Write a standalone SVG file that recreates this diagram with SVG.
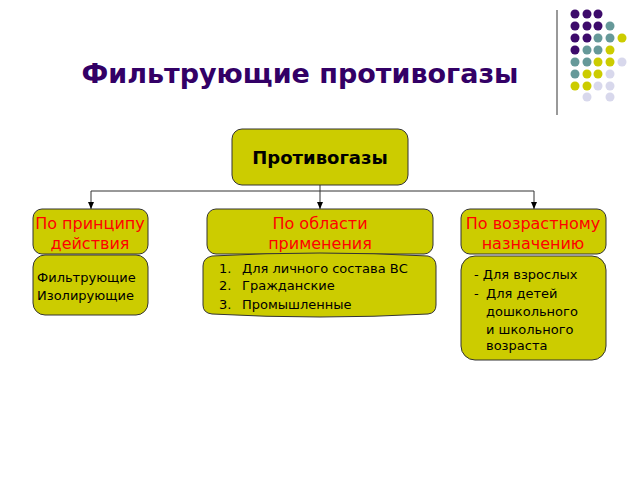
<svg xmlns="http://www.w3.org/2000/svg" width="640" height="480" viewBox="0 0 640 480">
<style>
.b{fill:#cccc00;stroke:#333;stroke-width:1}
.h{font-family:"DejaVu Sans",sans-serif;font-size:16px;fill:#ff0000;text-anchor:middle}
.t{font-family:"DejaVu Sans",sans-serif;font-size:13px;fill:#000}
.c{stroke:#333;stroke-width:1;fill:none;marker-end:url(#a)}
.P{fill:#3d0b6b}.T{fill:#669999}.Y{fill:#cccc00}.L{fill:#d8d8ec}
</style>
<defs><marker id="a" markerWidth="8" markerHeight="8" refX="7" refY="4" orient="auto" markerUnits="userSpaceOnUse"><path d="M0,1 L7,4 L0,7z" fill="#000"/></marker></defs>
<rect width="640" height="480" fill="#fff"/>
<line x1="557" y1="10" x2="557" y2="115" stroke="#999" stroke-width="2"/>
<g>
<circle class="P" cx="575" cy="14" r="4.5"/><circle class="P" cx="587" cy="14" r="4.5"/><circle class="P" cx="598" cy="14" r="4.5"/>
<circle class="P" cx="575" cy="26" r="4.5"/><circle class="P" cx="587" cy="26" r="4.5"/><circle class="P" cx="598" cy="26" r="4.5"/><circle class="T" cx="610" cy="26" r="4.5"/>
<circle class="P" cx="575" cy="38" r="4.5"/><circle class="P" cx="587" cy="38" r="4.5"/><circle class="T" cx="598" cy="38" r="4.5"/><circle class="T" cx="610" cy="38" r="4.5"/><circle class="Y" cx="622" cy="38" r="4.5"/>
<circle class="P" cx="575" cy="50" r="4.5"/><circle class="T" cx="587" cy="50" r="4.5"/><circle class="T" cx="598" cy="50" r="4.5"/><circle class="Y" cx="610" cy="50" r="4.5"/>
<circle class="T" cx="575" cy="62" r="4.5"/><circle class="T" cx="587" cy="62" r="4.5"/><circle class="Y" cx="598" cy="62" r="4.5"/><circle class="Y" cx="610" cy="62" r="4.5"/><circle class="L" cx="622" cy="62" r="4.5"/>
<circle class="T" cx="575" cy="74" r="4.5"/><circle class="Y" cx="587" cy="74" r="4.5"/><circle class="Y" cx="598" cy="74" r="4.5"/><circle class="L" cx="610" cy="74" r="4.5"/>
<circle class="Y" cx="575" cy="86" r="4.5"/><circle class="Y" cx="587" cy="86" r="4.5"/><circle class="L" cx="598" cy="86" r="4.5"/><circle class="L" cx="610" cy="86" r="4.5"/>
<circle class="L" cx="587" cy="97" r="4.5"/><circle class="L" cx="610" cy="97" r="4.5"/>
</g>
<text x="300" y="83" font-family="DejaVu Sans,sans-serif" font-size="27" font-weight="bold" fill="#330066" text-anchor="middle">Фильтрующие противогазы</text>
<g id="connectors">
<path d="M320,185 V191"/>
<path class="c" d="M320,191 H91 V209"/>
<path class="c" d="M320,191 V209"/>
<path class="c" d="M320,191 H534 V209"/>
<path d="M320,185 V191" stroke="#333"/>
</g>
<g id="root"><rect class="b" x="232" y="129" width="176" height="56" rx="10"/>
<text x="320" y="164" font-family="DejaVu Sans,sans-serif" font-size="18" font-weight="bold" text-anchor="middle">Противогазы</text></g>
<g id="n1"><rect class="b" x="33" y="209" width="115" height="45" rx="9"/>
<text class="h" x="90" y="229">По принципу</text><text class="h" x="90" y="249">действия</text></g>
<g id="n1b"><rect class="b" x="33" y="255" width="115" height="60" rx="12"/>
<text class="t" x="37" y="282">Фильтрующие</text><text class="t" x="37" y="300">Изолирующие</text></g>
<g id="n2"><rect class="b" x="207" y="209" width="226" height="45" rx="9"/>
<text class="h" x="320" y="229">По области</text><text class="h" x="320" y="249">применения</text></g>
<g id="n2b"><path class="b" d="M212,256 Q320,250 428,256 Q436,258 436,266 V305 Q436,313 428,314 Q320,320 212,314 Q203,313 203,305 V266 Q203,258 212,256Z"/>
<text class="t" x="219" y="273">1.</text><text class="t" x="242" y="273">Для личного состава ВС</text>
<text class="t" x="219" y="290">2.</text><text class="t" x="242" y="290">Гражданские</text>
<text class="t" x="219" y="309">3.</text><text class="t" x="242" y="309">Промышленные</text></g>
<g id="n3"><rect class="b" x="461" y="209" width="145" height="45" rx="9"/>
<text class="h" x="533" y="229">По возрастному</text><text class="h" x="533" y="249">назначению</text></g>
<g id="n3b"><rect class="b" x="461" y="256" width="145" height="104" rx="14"/>
<text class="t" x="474" y="279">- Для взрослых</text><text class="t" x="474" y="298">-</text>
<text class="t" x="486" y="298">Для детей</text><text class="t" x="486" y="316">дошкольного</text><text class="t" x="486" y="334">и школьного</text><text class="t" x="486" y="350">возраста</text></g>
</svg>
